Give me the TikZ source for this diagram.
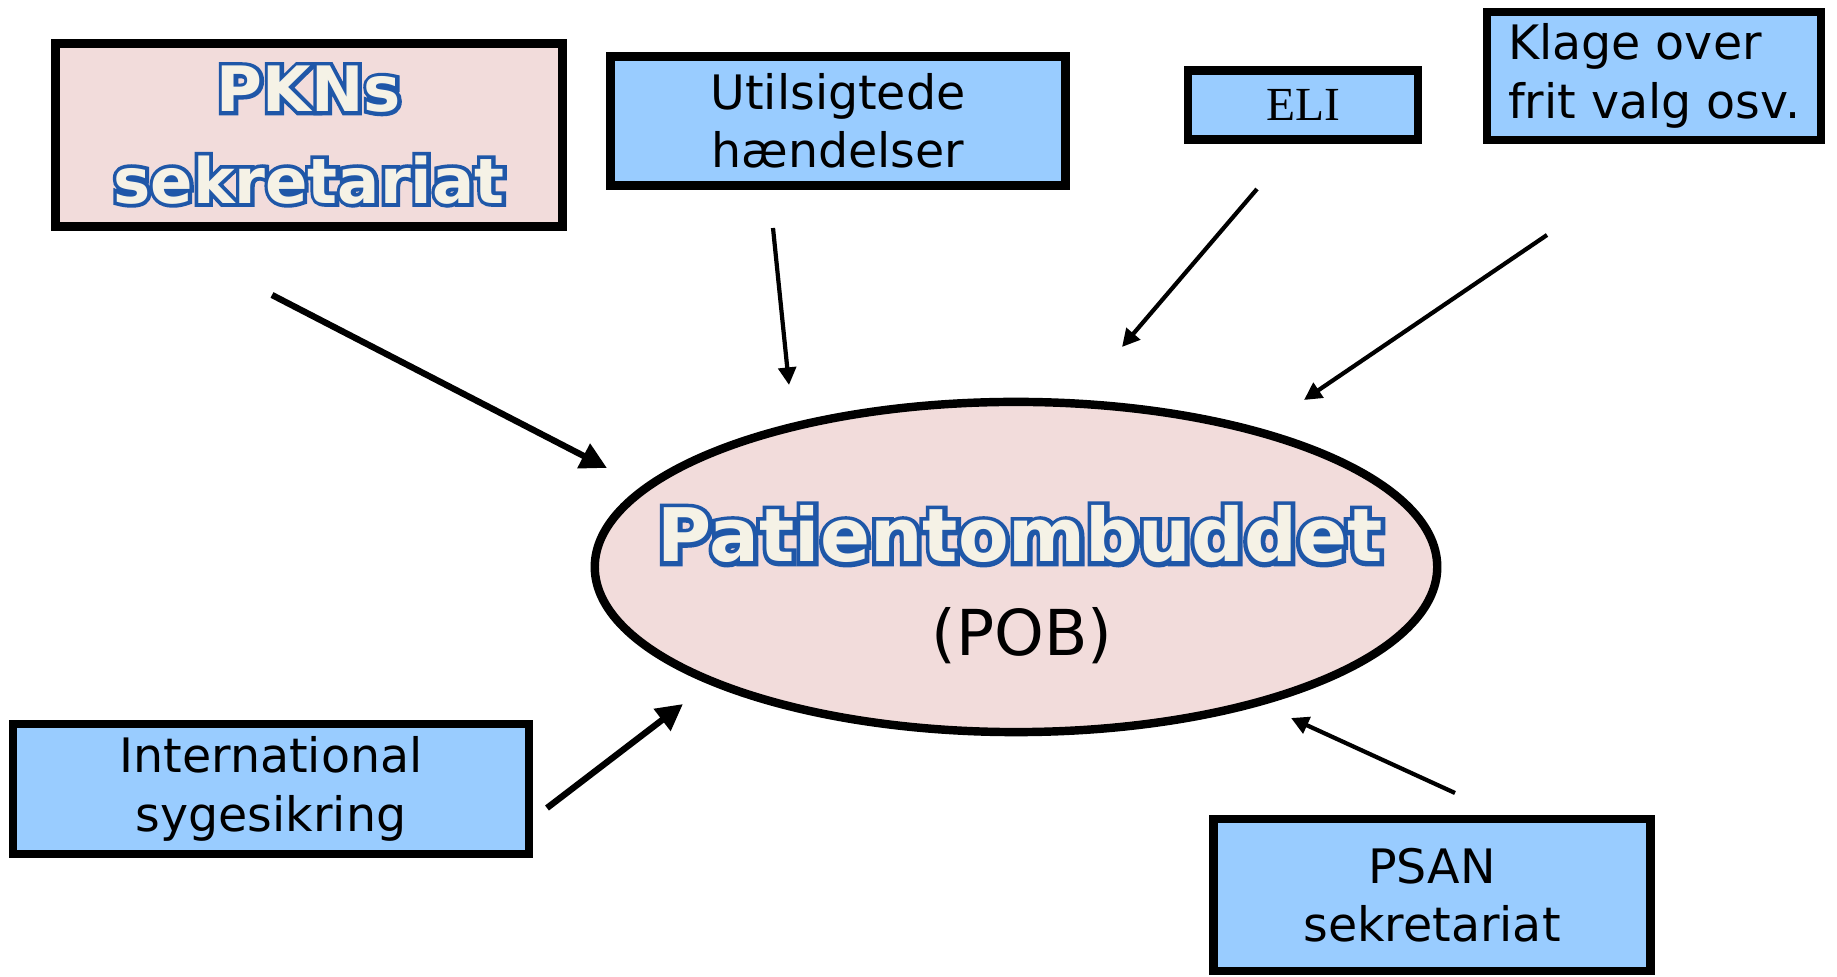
\documentclass[tikz,border=0pt]{standalone}
\usepackage{fontspec}
\setmainfont{DejaVu Sans}
\newfontfamily\elifont{Liberation Serif}
\newfontfamily\rimfont{DejaVu Sans Bold}[FakeBold=12]
\usetikzlibrary{arrows.meta,shapes.geometric}
\definecolor{boxblue}{HTML}{99CCFF}
\definecolor{boxpink}{HTML}{F2DCDB}
\definecolor{rimblue}{HTML}{1F57A8}
\definecolor{cream}{HTML}{F5F2E6}
\newcommand{\rimtext}[1]{\rlap{\textcolor{rimblue}{\rimfont #1}}\textcolor{cream}{\bfseries #1}}

\begin{document}
\begin{tikzpicture}[x=0.01cm, y=-0.01cm,
    box/.style={draw, line width=2.4pt, fill=boxblue, inner sep=0pt, align=center, font=\fontsize{13.5}{16.6}\selectfont},
    pinkbox/.style={box, fill=boxpink, font=\fontsize{17.8}{26}\selectfont},
    thinarrow/.style={line width=1.2pt, -{Triangle[length=5pt,width=5pt]}},
    thickarrow/.style={line width=1.8pt, -{Triangle[length=7.5pt,width=7.5pt]}}]
    \useasboundingbox (0,0) rectangle (1837,977);

    \node[pinkbox, minimum width=5.07cm, minimum height=1.83cm] (pkn) at (309,135) {\rimtext{PKNs}\\\rimtext{sekretariat}};
    \node[box, minimum width=4.55cm, minimum height=1.29cm] (uth) at (838,121) {Utilsigtede\\hændelser};
    \node[box, minimum width=2.30cm, minimum height=0.69cm, font=\elifont\fontsize{13.5}{16}\selectfont] (eli) at (1303,105) {ELI};
    \node[box, minimum width=3.34cm, minimum height=1.28cm, align=left] (klage) at (1654,76) {Klage over\\frit valg osv.};
    \node[box, minimum width=5.16cm, minimum height=1.30cm] (intl) at (271,789) {International\\sygesikring};
    \node[box, minimum width=4.37cm, minimum height=1.52cm] (psan) at (1432,895) {PSAN\\sekretariat};

    \node[ellipse, draw, line width=2.4pt, fill=boxpink, minimum width=8.42cm, minimum height=3.30cm] (pob) at (1016,567) {};
    \node[anchor=base, font=\fontsize{21}{25}\selectfont] (pobname) at (1020,562) {\rimtext{Patientombuddet}};
    \node[anchor=base, font=\fontsize{18}{22}\selectfont] (pobshort) at (1022,656) {(POB)};

    \coordinate (pknstart) at (272,295);
    \coordinate (pknend) at (607,468);
    \coordinate (uthstart) at (773,228);
    \coordinate (uthend) at (789,385);
    \coordinate (elistart) at (1257,189);
    \coordinate (eliend) at (1122,347);
    \coordinate (klagestart) at (1547,235);
    \coordinate (klageend) at (1304,400);
    \coordinate (intlstart) at (547,808);
    \coordinate (intlend) at (683,704);
    \coordinate (psanstart) at (1455,793);
    \coordinate (psanend) at (1291,718);

    \draw[thickarrow] (pknstart) -- (pknend);
    \draw[thinarrow] (uthstart) -- (uthend);
    \draw[thinarrow] (elistart) -- (eliend);
    \draw[thinarrow] (klagestart) -- (klageend);
    \draw[thickarrow] (intlstart) -- (intlend);
    \draw[thinarrow] (psanstart) -- (psanend);
\end{tikzpicture}
\end{document}
